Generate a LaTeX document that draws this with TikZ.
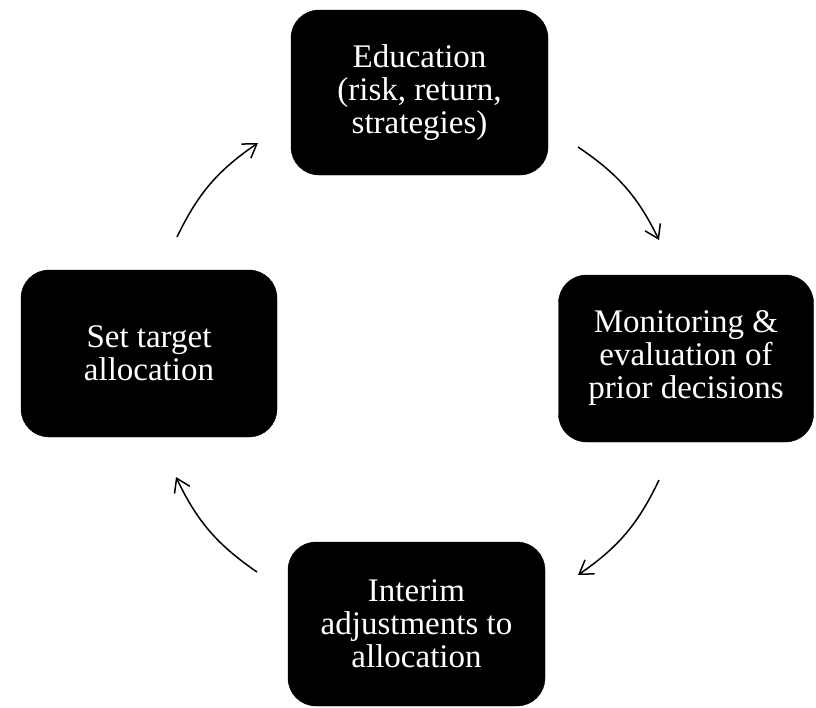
\documentclass[tikz,border=0pt]{standalone}
\usepackage{fontspec}
\setmainfont{Liberation Serif}
\usetikzlibrary{arrows.meta}
\begin{document}
\begin{tikzpicture}[x=1pt,y=-1pt,
  stagebox/.style={rectangle, fill=black, draw=black, rounded corners=28pt,
    text=white, align=center, inner sep=0pt,
    font=\fontsize{33}{33}\selectfont},
  cyclearrow/.style={line width=1.5pt, -{Straight Barb[length=13pt,width=17pt,line width=1.5pt]}, bend left=15}]
\useasboundingbox (0,0) rectangle (816,707);
\node[stagebox, minimum width=257pt, minimum height=165pt] (edu) at (419.5,92.5) {Education\\(risk, return,\\strategies)};
\node[stagebox, minimum width=255pt, minimum height=167pt] (mon) at (686,358.5) {Monitoring \&\\evaluation of\\prior decisions};
\node[stagebox, minimum width=257pt, minimum height=164pt] (int) at (416.5,624) {Interim\\adjustments to\\allocation};
\node[stagebox, minimum width=256pt, minimum height=167pt] (set) at (149,353.5) {Set target\\allocation};
\coordinate (a1s) at (177,237);
\coordinate (a1e) at (258,143);
\coordinate (a2s) at (578,147);
\coordinate (a2e) at (659,240);
\coordinate (a3s) at (659,480);
\coordinate (a3e) at (578,575);
\coordinate (a4s) at (257,572);
\coordinate (a4e) at (176,477);
\draw[cyclearrow] (a1s) to (a1e);
\draw[cyclearrow] (a2s) to (a2e);
\draw[cyclearrow] (a3s) to (a3e);
\draw[cyclearrow] (a4s) to (a4e);
\end{tikzpicture}
\end{document}
